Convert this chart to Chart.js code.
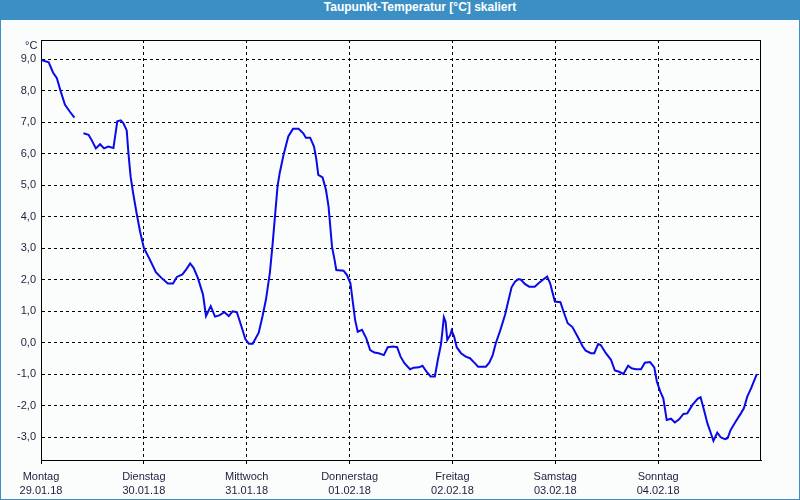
<!DOCTYPE html>
<html>
<head>
<meta charset="utf-8">
<script src="https://cdn.jsdelivr.net/npm/chart.js@4"></script>
<style>
  html, body { margin: 0; padding: 0; }
  body { width: 800px; height: 500px; position: relative; overflow: hidden; background: #3b8fc5; }
  #inner { position: absolute; left: 1px; top: 20px; width: 798px; height: 479px; background: #fbfdfc; }
  #title { position: absolute; left: 0; top: 0; width: 800px; height: 20px; line-height: 20px;
           box-sizing: border-box; padding-left: 40px; text-align: center; color: #ffffff;
           font: bold 12px "Liberation Sans", Arial, sans-serif; }
  #unit { position: absolute; left: 25px; top: 39px; font: 11px "Liberation Sans", Arial, sans-serif; color: #1e1e3c; }
  #wrap { position: absolute; left: 0; top: 0; width: 800px; height: 500px; }
</style>
</head>
<body>
<div id="inner"></div>
<div id="title">Taupunkt-Temperatur [°C] skaliert</div>
<div id="wrap"><canvas id="c" width="800" height="500"></canvas></div>
<div id="unit">°C</div>
<script>
// ---- data (hours since Montag 29.01.18 00:00, dew point °C) ----
const dayNames = ["Montag", "Dienstag", "Mittwoch", "Donnerstag", "Freitag", "Samstag", "Sonntag"];
const dayDates = ["29.01.18", "30.01.18", "31.01.18", "01.02.18", "02.02.18", "03.02.18", "04.02.18"];
const yTickValues = [-3, -2, -1, 0, 1, 2, 3, 4, 5, 6, 7, 8, 9];
const xTickValues = [0, 24, 48, 72, 96, 120, 144, 168];

const hours = [0,1.8,2.8,3.7,4.6,5.6,6.7,7.8,8.8,9.9,11.1,11.8,12.8,13.8,14.7,15.7,16.9,17.8,18.6,19.2,20.0,20.4,20.9,21.5,22.3,23.1,24.0,25.4,26.8,28.1,29.6,30.8,31.7,33.0,33.9,34.8,35.6,36.6,37.8,38.5,39.6,40.6,41.6,42.8,43.8,44.7,45.7,46.7,47.7,48.5,49.4,50.8,51.7,52.5,53.4,54.0,54.6,55.2,55.7,56.6,57.7,58.8,60.1,61.2,61.8,62.8,63.7,64.2,64.7,65.7,66.5,67.1,67.5,67.9,68.5,68.9,70.6,71.4,72.2,72.8,73.3,73.9,74.9,75.9,76.8,77.8,78.8,80.0,80.9,82.2,83.1,83.9,84.8,86.1,87.0,88.2,89.0,90.0,90.9,91.9,92.6,93.3,93.7,94.0,94.4,94.8,95.5,95.8,96.4,97.0,98.0,99.1,100.1,101.1,102.0,103.8,104.6,105.4,106.1,107.2,108.3,108.9,109.8,110.6,111.4,112.0,112.9,113.9,115.2,116.1,117.1,118.1,118.8,119.9,121.2,121.9,122.9,124.0,125.2,126.4,127.1,128.3,129.1,130.0,130.6,131.8,133.0,133.9,134.9,135.9,137.0,137.8,138.8,140.0,140.9,142.1,143.1,143.7,144.5,145.2,146.0,147.0,147.9,148.9,149.9,150.8,152.0,153.2,153.9,154.7,155.5,156.3,156.9,157.8,158.6,159.6,160.2,160.9,162.1,163.3,164.0,164.8,165.7,167.0];

const dewPoint = [8.98,8.9,8.58,8.4,7.98,7.55,7.34,7.15,null,6.65,6.6,6.44,6.17,6.3,6.17,6.23,6.18,7.03,7.06,6.97,6.74,6.02,5.28,4.75,4.12,3.54,3.01,2.64,2.24,2.06,1.88,1.88,2.09,2.17,2.33,2.52,2.38,2.06,1.53,0.85,1.16,0.83,0.87,0.97,0.85,1.0,0.97,0.55,0.11,-0.03,-0.03,0.32,0.85,1.38,2.22,3.07,4.02,4.97,5.39,5.97,6.55,6.79,6.79,6.65,6.51,6.51,6.23,5.86,5.33,5.25,4.85,4.32,3.69,3.05,2.63,2.31,2.29,2.15,1.89,1.25,0.72,0.35,0.41,0.14,-0.23,-0.31,-0.33,-0.39,-0.14,-0.12,-0.14,-0.44,-0.65,-0.84,-0.79,-0.78,-0.73,-0.92,-1.07,-1.07,-0.54,-0.07,0.41,0.81,0.67,0.09,0.25,0.39,0.2,-0.14,-0.33,-0.44,-0.49,-0.63,-0.76,-0.76,-0.63,-0.39,-0.02,0.41,0.9,1.25,1.76,1.94,2.02,2.0,1.87,1.78,1.78,1.89,2.0,2.1,1.89,1.31,1.29,1.0,0.62,0.5,0.2,-0.12,-0.25,-0.33,-0.33,-0.04,-0.07,-0.33,-0.54,-0.88,-0.92,-0.99,-0.73,-0.81,-0.84,-0.84,-0.63,-0.61,-0.78,-1.23,-1.55,-1.76,-2.45,-2.41,-2.53,-2.43,-2.26,-2.24,-1.97,-1.78,-1.73,-2.13,-2.56,-2.87,-3.11,-2.85,-3.0,-3.06,-3.03,-2.77,-2.5,-2.24,-2.08,-1.71,-1.44,-1.0];

const yMin = -3.72, yMax = 9.61;

const points = hours.map((h, i) => ({ x: h, y: dewPoint[i] }));

const frame = {
  id: 'frame',
  beforeDatasetsDraw(chart) {
    const a = chart.chartArea, ctx = chart.ctx;
    ctx.save();
    ctx.strokeStyle = '#000000';
    ctx.lineWidth = 1;
    ctx.setLineDash([]);
    ctx.strokeRect(Math.round(a.left) + 0.5, Math.round(a.top) + 0.5,
                   Math.round(a.right) - Math.round(a.left) - 1, Math.round(a.bottom) - Math.round(a.top));
    ctx.restore();
  }
};

const font = { family: '"Liberation Sans", Arial, sans-serif', size: 11 };
const isEnd = (c) => c.tick && c.tick.value === 168;

new Chart(document.getElementById('c'), {
  type: 'line',
  data: {
    datasets: [{
      data: points,
      borderColor: '#0a0ae8',
      borderWidth: 2,
      pointRadius: 0,
      tension: 0,
      spanGaps: false,
      fill: false
    }]
  },
  options: {
    responsive: false,
    animation: false,
    events: [],
    layout: { padding: { top: 40, left: 0, right: 39, bottom: 0 } },
    plugins: { legend: { display: false }, tooltip: { enabled: false }, title: { display: false } },
    scales: {
      x: {
        type: 'linear',
        min: 0, max: 168,
        afterBuildTicks: (s) => { s.ticks = xTickValues.map(v => ({ value: v })); },
        afterFit: (s) => { s.height = 40; },
        ticks: {
          autoSkip: false, maxRotation: 0, padding: 6, color: '#1e1e3c',
          font: { family: font.family, size: 11, lineHeight: 1.3 },
          callback: (v) => { const i = Math.round(v / 24); return i < dayNames.length ? [dayNames[i], dayDates[i]] : ''; }
        },
        grid: {
          color: (c) => isEnd(c) ? 'rgba(0,0,0,0)' : '#000000',
          lineWidth: 1, drawTicks: true, tickLength: 4,
          tickColor: (c) => isEnd(c) ? 'rgba(0,0,0,0)' : '#000000'
        },
        border: { display: true, color: '#000000', width: 1, dash: [3, 3] }
      },
      y: {
        min: yMin, max: yMax,
        afterBuildTicks: (s) => { s.ticks = yTickValues.map(v => ({ value: v })); },
        afterFit: (s) => { s.width = 41; },
        ticks: {
          padding: 5, color: '#1e1e3c', font: font,
          callback: (v) => v.toFixed(1).replace('.', ',')
        },
        grid: { color: '#000000', lineWidth: 1, drawTicks: false },
        border: { display: true, color: '#000000', width: 1, dash: [3, 3] }
      }
    }
  },
  plugins: [frame]
});
</script>
</body>
</html>
